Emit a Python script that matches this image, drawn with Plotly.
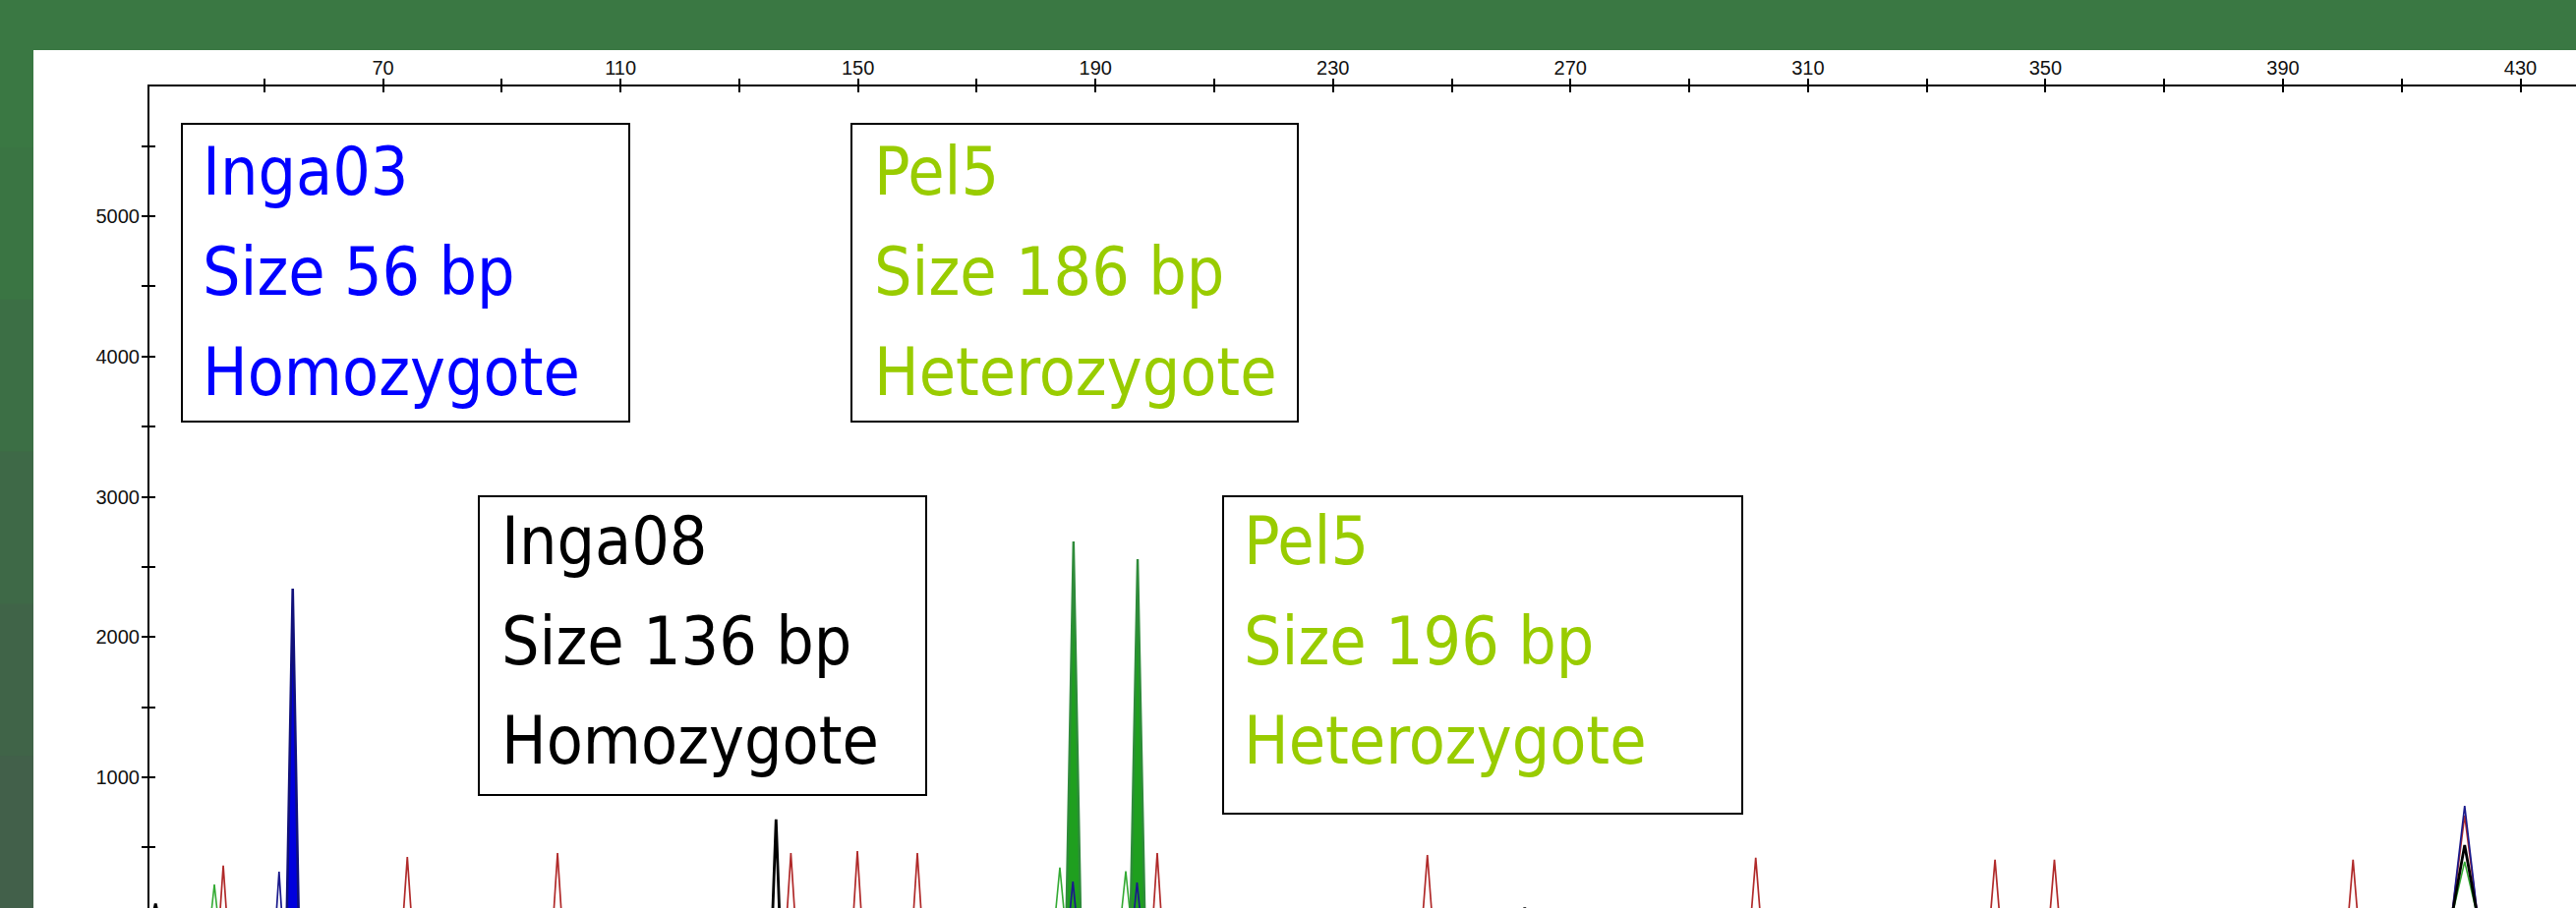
import plotly.graph_objects as go

# ---------------- data ----------------
x_tick_values = [70, 110, 150, 190, 230, 270, 310, 350, 390, 430]
x_tick_labels = ["70", "110", "150", "190", "230", "270", "310", "350", "390", "430"]
x_minor_values = [50, 90, 130, 170, 210, 250, 290, 330, 370, 410]
y_tick_values = [1000, 2000, 3000, 4000, 5000]
y_tick_labels = ["1000", "2000", "3000", "4000", "5000"]
y_minor_values = [500, 1500, 2500, 3500, 4500, 5500]

# size standard (red)
red_sizes = [43.1, 74.1, 99.4, 138.7, 149.9, 160.0, 200.4, 245.9, 301.2, 341.5, 351.5, 401.8, 420.6]
red_heights = [370, 433, 460, 460, 475, 460, 460, 447, 426, 412, 412, 412, 727]
red_widths = [0.6, 0.7, 0.7, 0.7, 0.7, 0.7, 0.7, 0.8, 0.8, 0.8, 0.8, 0.8, 2.2]

# green dye
green_allele_sizes = [186.3, 197.1]
green_allele_heights = [2681, 2555]
green_allele_widths = [1.2, 1.2]
green_minor_sizes = [41.6, 184.0, 195.1, 420.6]
green_minor_heights = [236, 356, 330, 398]
green_minor_widths = [0.6, 0.8, 0.8, 2.2]

# blue dye
blue_allele_sizes = [54.8]
blue_allele_heights = [2345]
blue_allele_widths = [1.0]
blue_minor_sizes = [52.5, 186.2, 197.0, 420.6]
blue_minor_heights = [327, 257, 250, 797]
blue_minor_widths = [0.5, 0.6, 0.6, 2.2]

# black dye
black_sizes = [31.7, 136.2, 262.3, 420.6]
black_heights = [100, 700, 70, 517]
black_widths = [0.5, 0.6, 0.5, 2.2]

marker_names = ["Inga03", "Pel5", "Inga08", "Pel5"]
marker_sizes_bp = [56, 186, 136, 196]
marker_zygosity = ["Homozygote", "Heterozygote", "Homozygote", "Heterozygote"]

# ---------------- layout geometry (pixels) ----------------
W, H = 2620, 924
L, T = 152, 88
PW, PH = W - L, H - T
X_RANGE = [30.67, 439.35]
Y_RANGE = [68.3, 5925]


def fx(px):
    return (px - L) / PW


def fy(py):
    return (H - py) / PH


def peak_xy(sizes, heights, widths):
    xs, ys = [], []
    for s, h, w in zip(sizes, heights, widths):
        xs += [s - w, s, s + w, None]
        ys += [0, h, 0, None]
    return xs, ys


fig = go.Figure()


def add_peaks(sizes, heights, widths, color, width, fill=None, fillcolor=None):
    xs, ys = peak_xy(sizes, heights, widths)
    fig.add_trace(go.Scatter(
        x=xs, y=ys, mode="lines",
        line=dict(color=color, width=width),
        fill=fill, fillcolor=fillcolor,
        showlegend=False, hoverinfo="skip",
    ))


add_peaks(green_minor_sizes, green_minor_heights, green_minor_widths, "#33aa33", 1.6)
add_peaks(green_allele_sizes, green_allele_heights, green_allele_widths, "#2e8b3a", 2.4,
          fill="toself", fillcolor="#1f9f1f")
add_peaks(red_sizes, red_heights, red_widths, "#b02a2a", 1.7)
add_peaks(blue_minor_sizes, blue_minor_heights, blue_minor_widths, "#1a1a8c", 1.7)
add_peaks(blue_allele_sizes, blue_allele_heights, blue_allele_widths, "#10107a", 2.6,
          fill="toself", fillcolor="#0000dd")
add_peaks(black_sizes, black_heights, black_widths, "#000000", 2.8)

# dummy trace for overlay axes (crossing ticks)
fig.add_trace(go.Scatter(x=[None], y=[None], xaxis="x2", yaxis="y2",
                         showlegend=False, hoverinfo="skip"))

tick_font = dict(family="Liberation Sans, Arial, sans-serif", size=20, color="#111111")

fig.update_layout(
    width=W, height=H,
    margin=dict(l=L, r=0, t=T, b=0, pad=0),
    paper_bgcolor="#3a7843",
    plot_bgcolor="white",
    xaxis=dict(
        range=X_RANGE, side="top", showline=True, linecolor="black", linewidth=2,
        ticks="outside", ticklen=6, tickwidth=2, tickcolor="black",
        tickmode="array", tickvals=x_tick_values, ticktext=x_tick_labels,
        minor=dict(tickmode="array", tickvals=x_minor_values, ticks="outside",
                   ticklen=6, tickwidth=2, tickcolor="black", showgrid=False),
        showgrid=False, zeroline=False, tickfont=tick_font, ticklabelstandoff=-4,
        fixedrange=True,
    ),
    xaxis2=dict(
        range=X_RANGE, overlaying="x", side="top", anchor="y",
        ticks="inside", ticklen=6, tickwidth=2, tickcolor="black",
        tickmode="array", tickvals=sorted(x_tick_values + x_minor_values),
        showticklabels=False, showline=False, showgrid=False, zeroline=False,
    ),
    yaxis=dict(
        range=Y_RANGE, showline=True, linecolor="black", linewidth=2,
        ticks="outside", ticklen=6, tickwidth=2, tickcolor="black",
        tickmode="array", tickvals=y_tick_values, ticktext=y_tick_labels,
        minor=dict(tickmode="array", tickvals=y_minor_values, ticks="outside",
                   ticklen=6, tickwidth=2, tickcolor="black", showgrid=False),
        showgrid=False, zeroline=False, tickfont=tick_font, ticklabelstandoff=-2,
        fixedrange=True,
    ),
    yaxis2=dict(
        range=Y_RANGE, overlaying="y", side="left", anchor="x",
        ticks="inside", ticklen=6, tickwidth=2, tickcolor="black",
        tickmode="array", tickvals=sorted(y_tick_values + y_minor_values),
        showticklabels=False, showline=False, showgrid=False, zeroline=False,
    ),
)

shapes = []
# left strip shading (slightly greyer green going down)
strip_colors = ["#3a7543", "#3c6f45", "#3e6947", "#406448", "#42604a"]
band_h = (H - 150) / len(strip_colors)
for i, c in enumerate(strip_colors):
    shapes.append(dict(type="rect", xref="paper", yref="paper",
                       x0=fx(0), x1=fx(34), y0=fy(150 + (i + 1) * band_h + 1), y1=fy(150 + i * band_h),
                       line=dict(width=0), fillcolor=c, layer="below"))
# white panel
shapes.append(dict(type="rect", xref="paper", yref="paper",
                   x0=fx(34), x1=fx(W + 5), y0=fy(H + 5), y1=fy(51),
                   line=dict(width=0), fillcolor="white", layer="below"))

# text boxes
boxes_px = [(185, 126, 640, 429), (866, 126, 1320, 429), (487, 505, 942, 809), (1244, 505, 1772, 828)]
text_left_px = [205, 888, 509, 1264]
baselines_px = [[198, 300, 402], [198, 300, 402], [574, 676, 777], [574, 676, 777]]
colors = ["#0000ff", "#99cc00", "#000000", "#99cc00"]

annotations = []
for i in range(4):
    x0, y0, x1, y1 = boxes_px[i]
    shapes.append(dict(type="rect", xref="paper", yref="paper",
                       x0=fx(x0), x1=fx(x1), y0=fy(y1), y1=fy(y0),
                       line=dict(color="black", width=2), fillcolor="rgba(0,0,0,0)", layer="above"))
    lines = [marker_names[i], f"Size {marker_sizes_bp[i]} bp", marker_zygosity[i]]
    for j, txt in enumerate(lines):
        annotations.append(dict(
            text=txt, xref="paper", yref="paper",
            x=fx(text_left_px[i]), y=fy(baselines_px[i][j] - 24),
            xanchor="left", yanchor="middle", showarrow=False, borderpad=0,
            font=dict(family="DejaVu Sans Condensed, Tahoma, DejaVu Sans, sans-serif",
                      size=67.5, color=colors[i]),
        ))

fig.update_layout(shapes=shapes, annotations=annotations)

fig.write_html("out.html", config={"displayModeBar": False},
               post_script="document.body.style.margin='0';document.body.style.overflow='hidden';")
